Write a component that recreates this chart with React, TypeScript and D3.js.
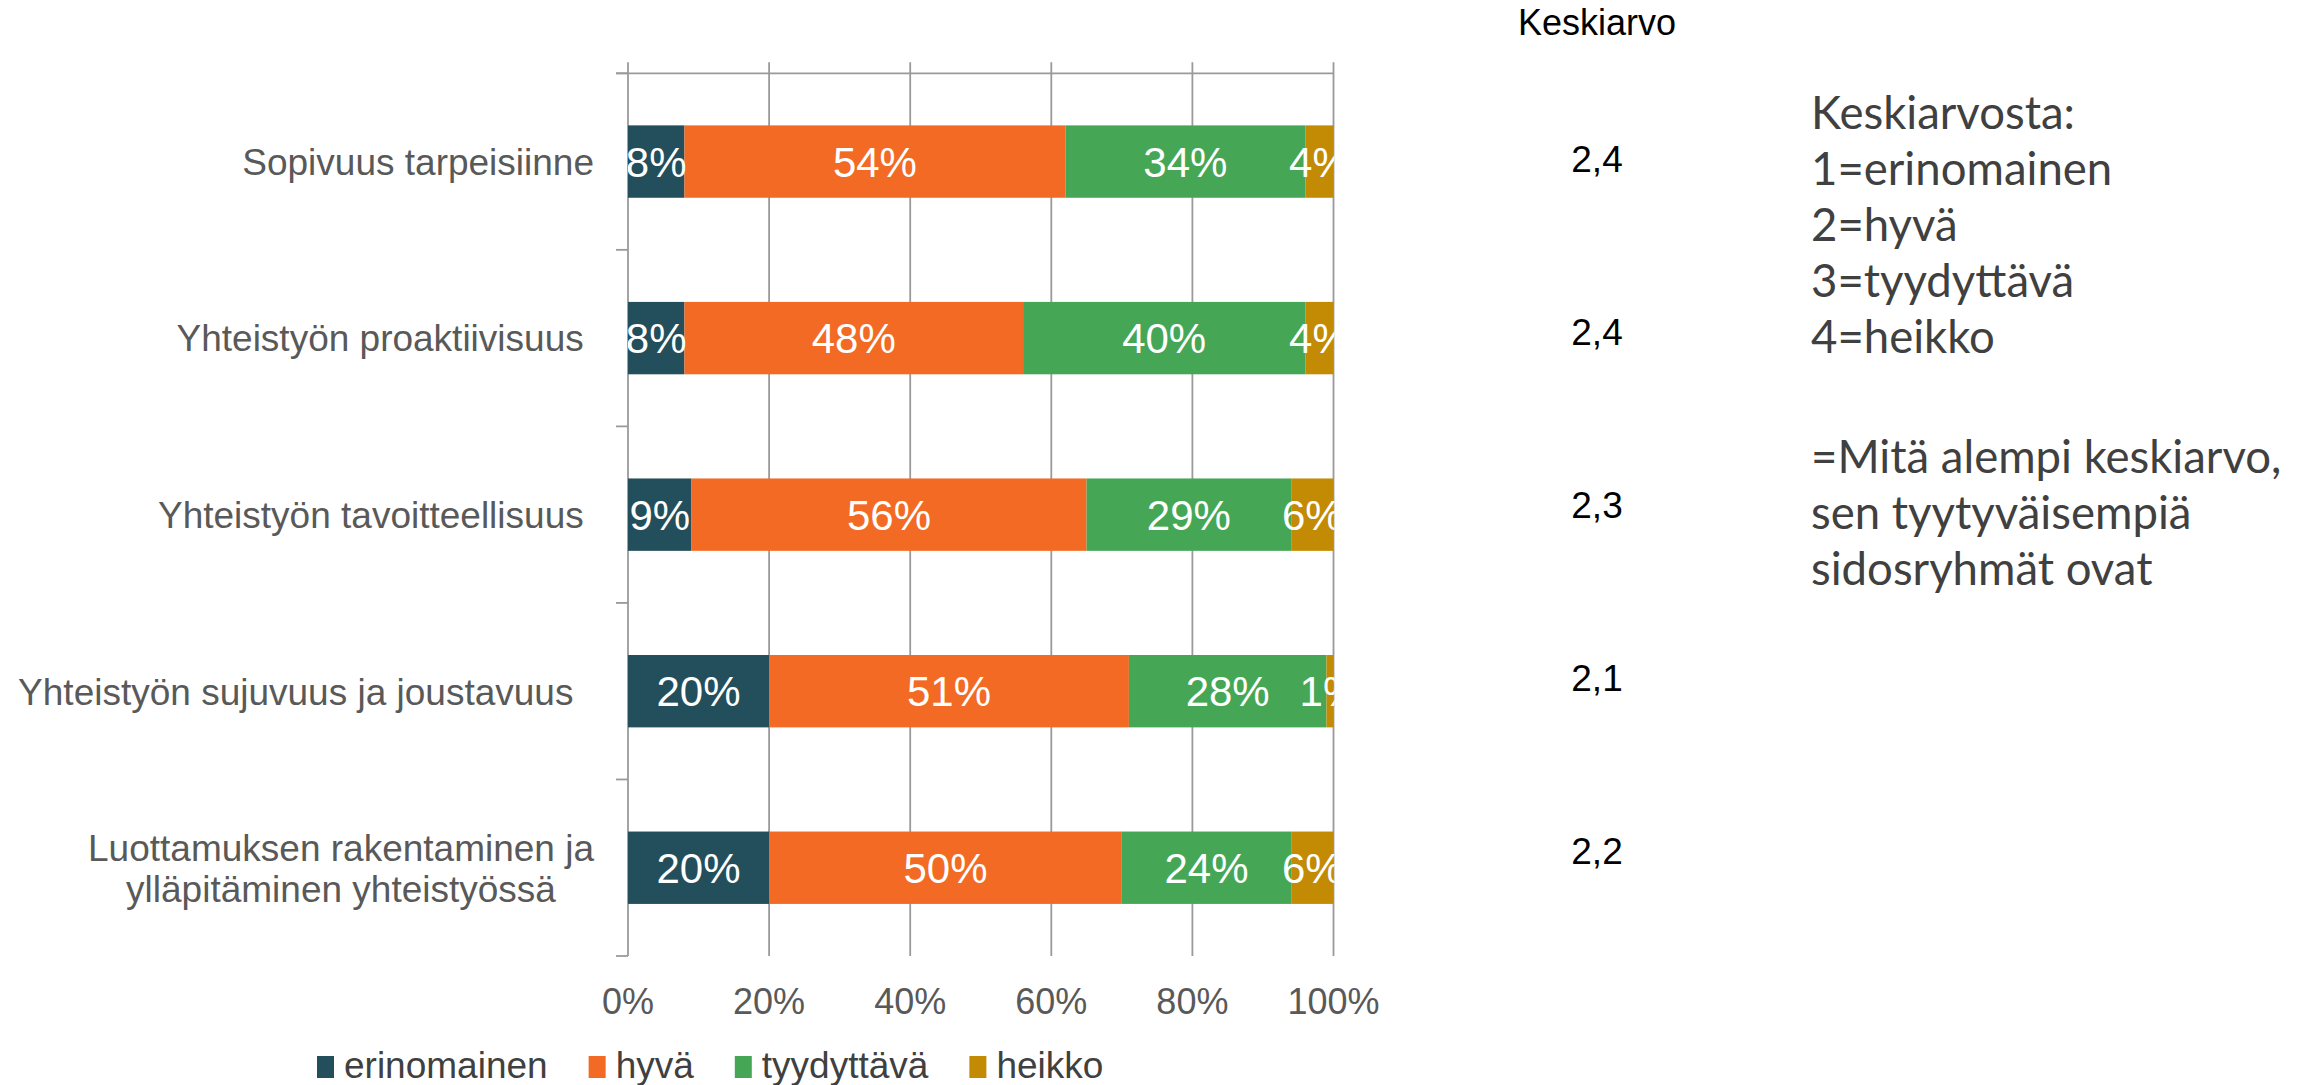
import * as React from "react";
import * as d3 from "d3";

// categories (trailing spaces are in the source labels)
const CATEGORIES = [
  "Sopivuus tarpeisiinne",
  "Yhteistyön proaktiivisuus ",
  "Yhteistyön tavoitteellisuus ",
  "Yhteistyön sujuvuus ja joustavuus  ",
  "Luottamuksen rakentaminen ja\nylläpitäminen yhteistyössä",
];
const SERIES = ["erinomainen", "hyvä", "tyydyttävä", "heikko"];
const ERINOMAINEN = [8, 8, 9, 20, 20];
const HYVA = [54, 48, 56, 51, 50];
const TYYDYTTAVA = [34, 40, 29, 28, 24];
const HEIKKO = [4, 4, 6, 1, 6];
const AVERAGES = ["2,4", "2,4", "2,3", "2,1", "2,2"];
const X_TICKS = [0, 20, 40, 60, 80, 100];
const NOTE_LINES = [
  "Keskiarvosta:",
  "1=erinomainen",
  "2=hyvä",
  "3=tyydyttävä",
  "4=heikko",
  "",
  "=Mitä alempi keskiarvo,",
  "sen tyytyväisempiä",
  "sidosryhmät ovat",
];

const COLORS = ["#234e5b", "#f26a23", "#45a756", "#c38a03"];
const FONT = "'Liberation Sans', Arial, sans-serif";
const W = 2312;
const H = 1085;

export default function App() {
  const ref = React.useRef<SVGSVGElement | null>(null);

  React.useEffect(() => {
    if (!ref.current) return;
    const svg = d3.select(ref.current);
    svg.selectAll("*").remove();

    const left = 628;
    const right = 1333.5;
    const top = 73.3;
    const bottom = 956;

    const x = d3.scaleLinear().domain([0, 100]).range([left, right]);
    const y = d3
      .scaleBand<string>()
      .domain(CATEGORIES)
      .range([top, bottom])
      .paddingInner(0.59)
      .paddingOuter(0.295);

    const rows = CATEGORIES.map((c, i) => ({
      cat: c,
      erinomainen: ERINOMAINEN[i],
      hyvä: HYVA[i],
      tyydyttävä: TYYDYTTAVA[i],
      heikko: HEIKKO[i],
    }));
    const stacked = d3.stack<any>().keys(SERIES)(rows);

    const grid = "#9a9a9a";

    // vertical gridlines (extend a bit above the top axis line)
    svg
      .append("g")
      .selectAll("line")
      .data(X_TICKS)
      .join("line")
      .attr("x1", (d) => x(d))
      .attr("x2", (d) => x(d))
      .attr("y1", top - 11)
      .attr("y2", bottom)
      .attr("stroke", grid)
      .attr("stroke-width", 1.8);

    // top axis line
    svg
      .append("line")
      .attr("x1", left - 12)
      .attr("x2", right)
      .attr("y1", top)
      .attr("y2", top)
      .attr("stroke", grid)
      .attr("stroke-width", 1.8);

    // category tick marks at band boundaries
    const step = y.step();
    const bounds = d3.range(CATEGORIES.length + 1).map((i) => top + i * step);
    svg
      .append("g")
      .selectAll("line")
      .data(bounds)
      .join("line")
      .attr("x1", left - 12)
      .attr("x2", left)
      .attr("y1", (d) => d)
      .attr("y2", (d) => d)
      .attr("stroke", grid)
      .attr("stroke-width", 1.8);

    // bars
    const bars = svg.append("g");
    stacked.forEach((s, si) => {
      bars
        .append("g")
        .attr("fill", COLORS[si])
        .selectAll("rect")
        .data(s)
        .join("rect")
        .attr("x", (d) => x(d[0]))
        .attr("width", (d) => x(d[1]) - x(d[0]))
        .attr("y", (d) => y(d.data.cat)!)
        .attr("height", y.bandwidth());
    });

    // value labels, clipped to plot area
    svg
      .append("clipPath")
      .attr("id", "plotclip")
      .append("rect")
      .attr("x", left)
      .attr("y", top)
      .attr("width", right - left + 1)
      .attr("height", bottom - top);
    const lbl = svg.append("g").attr("clip-path", "url(#plotclip)");
    stacked.forEach((s) => {
      lbl
        .append("g")
        .selectAll("text")
        .data(s)
        .join("text")
        .attr("x", (d) => x((d[0] + d[1]) / 2))
        .attr("y", (d) => y(d.data.cat)! + y.bandwidth() / 2)
        .attr("dy", "0.36em")
        .attr("text-anchor", "middle")
        .attr("font-family", FONT)
        .attr("font-size", 42)
        .attr("fill", "#ffffff")
        .text((d) => `${d[1] - d[0]}%`);
    });

    // x tick labels
    svg
      .append("g")
      .selectAll("text")
      .data(X_TICKS)
      .join("text")
      .attr("x", (d) => x(d))
      .attr("y", 1001)
      .attr("dy", "0.36em")
      .attr("text-anchor", "middle")
      .attr("font-family", FONT)
      .attr("font-size", 36)
      .attr("fill", "#595959")
      .text((d) => `${d}%`);

    // category labels (multi-line blocks centred, block right-aligned)
    const labelRight = 594;
    const lineH = 41;
    CATEGORIES.forEach((c) => {
      const lines = c.split("\n");
      const g = svg.append("g");
      const texts = lines.map((ln, li) =>
        g
          .append("text")
          .attr("y", y(c)! + y.bandwidth() / 2 + (li - (lines.length - 1) / 2) * lineH)
          .attr("dy", "0.36em")
          .attr("text-anchor", "middle")
          .attr("font-family", FONT)
          .attr("font-size", 37)
          .attr("fill", "#595959")
          .style("white-space", "pre")
          .text(ln)
      );
      const maxW = d3.max(texts, (t) => (t.node() as SVGTextElement).getComputedTextLength()) ?? 0;
      texts.forEach((t) => t.attr("x", labelRight - maxW / 2));
    });

    // average column
    const avgX = 1597;
    svg
      .append("text")
      .attr("x", avgX)
      .attr("y", 22)
      .attr("dy", "0.36em")
      .attr("text-anchor", "middle")
      .attr("font-family", FONT)
      .attr("font-size", 36)
      .attr("fill", "#000000")
      .text("Keskiarvo");
    const avgY = d3.scalePoint<number>().domain(d3.range(AVERAGES.length)).range([159, 851]);
    svg
      .append("g")
      .selectAll("text")
      .data(AVERAGES)
      .join("text")
      .attr("x", avgX)
      .attr("y", (_, i) => avgY(i)!)
      .attr("dy", "0.36em")
      .attr("text-anchor", "middle")
      .attr("font-family", FONT)
      .attr("font-size", 37)
      .attr("fill", "#000000")
      .text((d) => d);

    // note text on the right
    svg
      .append("g")
      .selectAll("text")
      .data(NOTE_LINES)
      .join("text")
      .attr("x", 1811)
      .attr("y", (_, i) => 129 + i * 56 + (i > 5 ? 8 : 0))
      .attr("font-family", "Lato, 'Open Sans', sans-serif")
      .attr("font-size", 45.5)
      .attr("fill", "#404040")
      .text((d) => d);

    // legend
    const legend = svg.append("g");
    let lx = 317;
    SERIES.forEach((s, i) => {
      legend
        .append("rect")
        .attr("x", lx)
        .attr("y", 1056)
        .attr("width", 17)
        .attr("height", 22)
        .attr("fill", COLORS[i]);
      const t = legend
        .append("text")
        .attr("x", lx + 27)
        .attr("y", 1078)
        .attr("font-family", FONT)
        .attr("font-size", 37)
        .attr("fill", "#404040")
        .text(s);
      lx += 27 + (t.node() as SVGTextElement).getComputedTextLength() + 41;
    });
  }, []);

  return (
    <svg
      ref={ref}
      width={W}
      height={H}
      style={{ position: "absolute", left: 0, top: 0, background: "#ffffff" }}
    />
  );
}
